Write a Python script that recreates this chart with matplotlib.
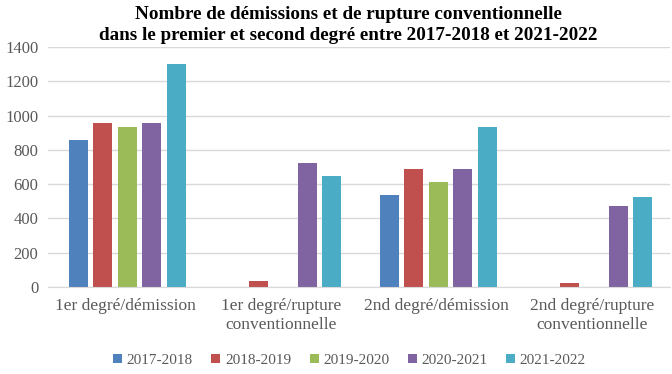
import numpy as np
import matplotlib.pyplot as plt

# ----------------------------
# Données
# ----------------------------
categories = ["1er degré/démission", "1er degré/rupture\nconventionnelle",
              "2nd degré/démission", "2nd degré/rupture\nconventionnelle"]
annees = ["2017-2018", "2018-2019", "2019-2020", "2020-2021", "2021-2022"]
v_2017 = [860, np.nan, 537, np.nan]
v_2018 = [958, 35, 688, 23]
v_2019 = [933, np.nan, 613, np.nan]
v_2020 = [958, 723, 688, 473]
v_2021 = [1301, 648, 933, 525]
series = [v_2017, v_2018, v_2019, v_2020, v_2021]
colors = ["#4F81BD", "#C0504D", "#9BBB59", "#8064A2", "#4BACC6"]

plt.rcParams['font.family'] = ['Liberation Serif', 'DejaVu Serif']

fig = plt.figure(figsize=(6.72, 3.74), dpi=100)
ax = fig.add_axes([0.0714, 0.2326, 0.9256, 0.6417])

x = np.arange(len(categories))
pitch = 0.157
width = 0.122
for i, (vals, lab, c) in enumerate(zip(series, annees, colors)):
    ax.bar(x + (i - 2) * pitch + 0.01, vals, width=width, color=c, label=lab)

ax.set_xlim(-0.5, 3.5)
ax.set_ylim(0, 1400)
ax.set_yticks(range(0, 1401, 200))
ax.set_xticks(x)
ax.set_xticklabels(categories, fontsize=12.5, color="#595959", linespacing=1.2)
ax.tick_params(axis='y', labelsize=12, labelcolor="#595959", length=0, pad=7)
ax.tick_params(axis='x', length=0, pad=8)
ax.grid(axis='y', color="#D9D9D9", linewidth=1)
ax.set_axisbelow(True)
for s in ["top", "right", "left"]:
    ax.spines[s].set_visible(False)
ax.spines["bottom"].set_color("#D9D9D9")

fig.suptitle("Nombre de démissions et de rupture conventionnelle\n"
             "dans le premier et second degré entre 2017-2018 et 2021-2022",
             fontsize=13.8, fontweight="bold", y=0.985, x=0.518, linespacing=1.3)

fig.legend(loc="lower center", bbox_to_anchor=(0.52, -0.018), ncol=5, frameon=False,
           fontsize=11, handlelength=0.6, handleheight=0.6, handletextpad=0.3,
           columnspacing=1.2, labelcolor="#595959")

fig.savefig("out.png", dpi=100)
